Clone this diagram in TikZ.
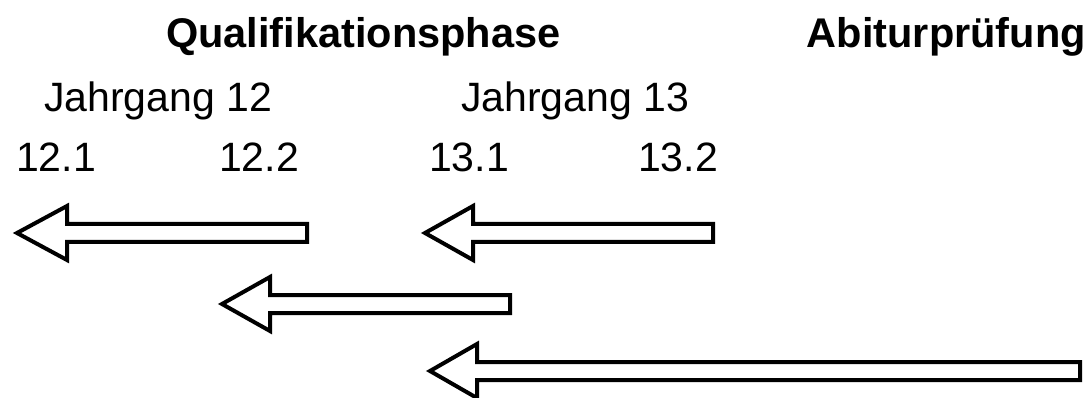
\documentclass[tikz,border=0pt]{standalone}
\usepackage{fontspec}
\setmainfont{Liberation Sans}
\newcommand\myblockarrow[4]{% tip x, tip y, back x of head, end x
  \draw[blockarrow] (#1,#2) -- (#3,#2-27) -- (#3,#2-9) -- (#4,#2-9) -- (#4,#2+9) -- (#3,#2+9) -- (#3,#2+27) -- cycle;}
\tikzset{
  blockarrow/.style={draw=black, fill=white, line width=4pt, line join=miter},
  title/.style={font=\fontsize{41.5}{48}\selectfont\bfseries, inner sep=0pt},
  label/.style={font=\fontsize{41}{49}\selectfont, anchor=base, inner sep=0pt}
}
\begin{document}
\begin{tikzpicture}[x=1pt,y=-1pt]
\useasboundingbox (0,0) rectangle (1090,398);
\node[title, anchor=base west] (qp) at (166,48) {Qualifikationsphase};
\node[title, anchor=base east] (ap) at (1086,48) {Abiturprüfung};
\node[label] (j12) at (158,112) {Jahrgang 12};
\node[label] (j13) at (575,112) {Jahrgang 13};
\node[label] (s121) at (56,172) {12.1};
\node[label] (s122) at (259,172) {12.2};
\node[label] (s131) at (469,172) {13.1};
\node[label] (s132) at (678,172) {13.2};
\myblockarrow{17}{233}{67}{307}
\myblockarrow{425}{233}{473}{713}
\myblockarrow{222}{304}{270}{510}
\myblockarrow{430}{371}{477}{1080}
\end{tikzpicture}
\end{document}
